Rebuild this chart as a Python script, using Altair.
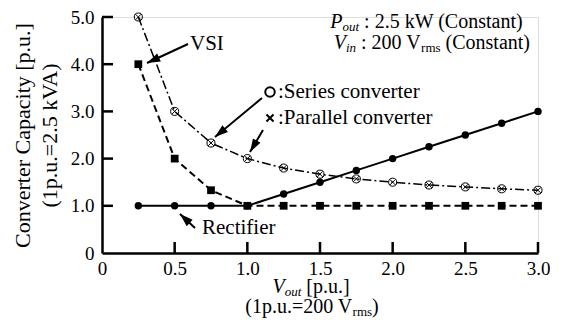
import math
import altair as alt
import pandas as pd

# ---------------- data ----------------
v_out = [0.25, 0.5, 0.75, 1.0, 1.25, 1.5, 1.75, 2.0, 2.25, 2.5, 2.75, 3.0]
rectifier = [1.0, 1.0, 1.0, 1.0, 1.25, 1.5, 1.75, 2.0, 2.25, 2.5, 2.75, 3.0]
vsi = [4.0, 2.0, 1.33, 1.0, 1.0, 1.0, 1.0, 1.0, 1.0, 1.0, 1.0, 1.0]
series_parallel = [5.0, 3.0, 2.33, 2.0, 1.8, 1.67, 1.57, 1.5, 1.44, 1.4, 1.36, 1.33]
x_tick_values = [0, 0.5, 1.0, 1.5, 2.0, 2.5, 3.0]
y_tick_values = [0, 1, 2, 3, 4, 5]
y_title = ["Converter Capacity [p.u.]", "(1p.u.=2.5 kVA)"]

# ---------------- layout ----------------
W, H = 436, 236
FONT = "Liberation Serif"
MAIN = 21
SUB = 14
TICK = 11

REG = {' ': 250, ':': 278, '.': 250, '(': 333, ')': 333, '[': 333, ']': 333, '=': 564,
       'C': 667, 'P': 556, 'S': 556, 'V': 722, 'W': 944, 'R': 667, 'I': 333,
       'a': 444, 'c': 444, 'e': 444, 'i': 278, 'k': 500, 'l': 278, 'm': 778, 'n': 500,
       'o': 500, 'p': 500, 'r': 333, 's': 389, 't': 278, 'u': 500, 'v': 500, 'f': 333}
ITA = {'P': 611, 'V': 611, 'o': 500, 'u': 500, 't': 278, 'i': 278, 'n': 500}


def seg_width(text, kind, main=MAIN, sub=SUB):
    table = ITA if 'i' in kind else REG
    size = sub if 's' in kind else main
    return sum(table.get(c, 500) for c in text) * size / 1000.0


def text_layers(segs, x, y, align="left", main=MAIN, sub=SUB):
    total = sum(seg_width(t, k, main, sub) for t, k in segs)
    if align == "right":
        pos = x - total
    elif align == "center":
        pos = x - total / 2.0
    else:
        pos = x
    layers = []
    one = pd.DataFrame({"a": [0]})
    for t, k in segs:
        size = sub if 's' in k else main
        style = "italic" if 'i' in k else "normal"
        yy = y + (3 if 's' in k else 0)
        stripped = t.lstrip(" ")
        lead = seg_width(t[:len(t) - len(stripped)], k, main, sub)
        layers.append(
            alt.Chart(one).mark_text(align="left", baseline="alphabetic", font=FONT,
                                     fontSize=size, fontStyle=style, color="black")
            .encode(x=alt.value(pos + lead), y=alt.value(yy), text=alt.value(stripped))
        )
        pos += seg_width(t, k, main, sub)
    return layers


HEAD = "M0,0L0.33,1L-0.33,1Z"


def arrow_layers(x1, y1, x2, y2):
    one = pd.DataFrame({"a": [0]})
    ang = math.degrees(math.atan2(x2 - x1, -(y2 - y1))) % 360
    shaft = alt.Chart(one).mark_rule(color="black", strokeWidth=2).encode(
        x=alt.value(x1), y=alt.value(y1), x2=alt.value(x2), y2=alt.value(y2))
    head = alt.Chart(one).mark_point(shape=HEAD, filled=True, color="black", opacity=1,
                                     size=700, strokeWidth=0).encode(
        x=alt.value(x2), y=alt.value(y2), angle=alt.value(ang))
    return [shaft, head]


df = pd.DataFrame({"v": v_out, "rect": rectifier, "vsi": vsi, "sp": series_parallel})

xs = alt.Scale(domain=[0, 3], nice=False, zero=False)
ys = alt.Scale(domain=[0, 5], nice=False)

x_axis = alt.Axis(values=x_tick_values, ticks=False, grid=False, domainWidth=2.5,
                  domainColor="black", labelFont=FONT, labelFontSize=19, labelColor="black",
                  labelPadding=6, labelFlush=False,
                  labelExpr="datum.value == 0 ? '0' : format(datum.value, '.1f')", title=None)
y_axis = alt.Axis(values=y_tick_values, ticks=False, grid=False, domainWidth=2.5,
                  domainColor="black", labelFont=FONT, labelFontSize=19, labelColor="black",
                  labelPadding=8, labelFlush=False,
                  labelExpr="datum.value == 0 ? '0' : format(datum.value, '.1f')",
                  title=y_title, titleFont=FONT, titleFontSize=22, titleFontWeight="normal",
                  titleColor="black", titlePadding=9, titleLineHeight=27)

X = alt.X("v:Q", scale=xs, axis=x_axis)
base = alt.Chart(df)

rect_line = base.mark_line(color="black", strokeWidth=2).encode(
    x=X, y=alt.Y("rect:Q", scale=ys, axis=y_axis))
vsi_line = base.mark_line(color="black", strokeWidth=2, strokeDash=[7, 4]).encode(
    x=X, y=alt.Y("vsi:Q", scale=ys))
sp_line = base.mark_line(color="black", strokeWidth=1.5, strokeDash=[9, 3, 2, 3]).encode(
    x=X, y=alt.Y("sp:Q", scale=ys))

rect_pts = base.mark_point(shape="circle", filled=True, size=55, color="black", opacity=1).encode(
    x=X, y=alt.Y("rect:Q", scale=ys))
vsi_pts = base.mark_point(shape="square", filled=True, size=60, color="black", opacity=1).encode(
    x=X, y=alt.Y("vsi:Q", scale=ys))
sp_circ = base.mark_point(shape="circle", filled=False, size=65, color="black", strokeWidth=1,
                          opacity=1).encode(x=X, y=alt.Y("sp:Q", scale=ys))
sp_x = base.mark_point(shape="M-0.7,-0.7L0.7,0.7M0.7,-0.7L-0.7,0.7", filled=False, size=65,
                       color="black", strokeWidth=1, opacity=1).encode(
    x=X, y=alt.Y("sp:Q", scale=ys))

# inward ticks
xt = alt.Chart(pd.DataFrame({"t": x_tick_values[1:]})).mark_rule(color="black", strokeWidth=2.5).encode(
    x=alt.X("t:Q", scale=xs), y=alt.value(H), y2=alt.value(H - TICK))
yt = alt.Chart(pd.DataFrame({"t": y_tick_values[1:]})).mark_rule(color="black", strokeWidth=2.5).encode(
    y=alt.Y("t:Q", scale=ys), x=alt.value(0), x2=alt.value(TICK))

one = pd.DataFrame({"a": [0]})
leg_circle = alt.Chart(one).mark_point(shape="circle", filled=False, size=90, color="black",
                                       strokeWidth=2, opacity=1).encode(
    x=alt.value(168), y=alt.value(75))
leg_x = alt.Chart(one).mark_point(shape="M-1,-1L1,1M1,-1L-1,1", filled=False, size=50,
                                  color="black", strokeWidth=2, opacity=1).encode(
    x=alt.value(168), y=alt.value(101))

layers = [rect_line, vsi_line, sp_line, rect_pts, vsi_pts, sp_circ, sp_x, xt, yt,
          leg_circle, leg_x]

# annotations
layers += text_layers([("P", "i"), ("out", "is"), (" : 2.5 kW (Constant)", "n")], 421, 11, "right",
                      main=20, sub=13)
layers += text_layers([("V", "i"), ("in", "is"), (" : 200 V", "n"), ("rms", "ns"), (" (Constant)", "n")],
                      428, 32, "right", main=20, sub=13)
layers += text_layers([("VSI", "n")], 88, 33)
layers += text_layers([(":Series converter", "n")], 176, 81)
layers += text_layers([(":Parallel converter", "n")], 176, 107)
layers += text_layers([("Rectifier", "n")], 100, 217)
layers += text_layers([("V", "i"), ("out", "is"), (" [p.u.]", "n")], 209, H + 40, "center",
                      main=20, sub=13)
layers += text_layers([("(1p.u.=200 V", "n"), ("rms", "ns"), (")", "n")], 210, H + 60, "center",
                      main=20, sub=13)

layers += arrow_layers(86, 27, 45, 46)
layers += arrow_layers(160, 81, 113, 120)
layers += arrow_layers(161, 113, 148, 135)
layers += arrow_layers(93, 211, 78, 197)

chart = alt.layer(*layers).properties(
    width=W, height=H,
    autosize=alt.AutoSizeParams(type="none"),
    padding={"left": 94, "top": 9, "right": 12, "bottom": 66},
).configure_view(stroke="black", strokeWidth=2.5).configure(font=FONT, background="white")

chart.save("out.html", embed_options={"renderer": "svg", "actions": False})
